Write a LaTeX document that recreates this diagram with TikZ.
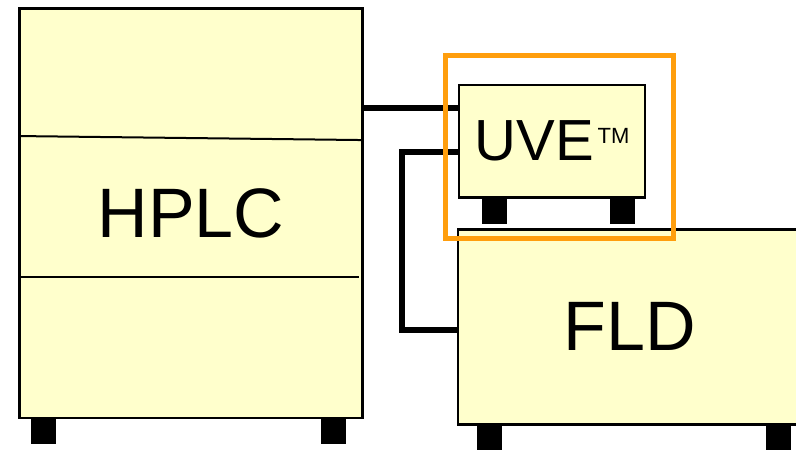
\documentclass[tikz,border=0pt]{standalone}
\usepackage{fontspec}
\setmainfont{Liberation Sans}
\usepackage{xcolor}
\usetikzlibrary{positioning,calc}
\definecolor{boxyellow}{RGB}{255,255,204}
\definecolor{frameorange}{RGB}{255,158,13}

\begin{document}
\begin{tikzpicture}[x=1pt, y=-1pt,
  unit/.style={draw, fill=boxyellow, line width=2.5pt, inner sep=0pt, outer sep=0pt},
  foot/.style={fill=black, minimum width=25pt, minimum height=26pt, inner sep=0pt, outer sep=0pt},
  pipe/.style={line width=6pt},
  bigtext/.style={font=\fontsize{70}{70}\selectfont}]
\useasboundingbox (0,0) rectangle (796,451);

% HPLC stack
\node[unit, bigtext, minimum width=343pt, minimum height=409.5pt] (hplc) at (191,213.3) {HPLC};
\draw[line width=2pt] ([yshift=-127.5pt]hplc.north west) -- ([yshift=-131.5pt]hplc.north east);
\draw[line width=2pt] ([yshift=-268.5pt]hplc.north west) -- ([yshift=-268.5pt,xshift=-4pt]hplc.north east);
\node[foot, anchor=north west] (hfootl) at ([xshift=11pt]hplc.south west) {};
\node[foot, anchor=north east] (hfootr) at ([xshift=-17pt]hplc.south east) {};

% FLD
\node[unit, bigtext, minimum width=344pt, minimum height=195pt] (fld) at (630,326.8) {FLD};
\node[foot, anchor=north west] (ffootl) at ([xshift=18.5pt]fld.south west) {};
\node[foot, anchor=north west] (ffootr) at ([xshift=307.5pt]fld.south west) {};

% UVE
\node[unit, minimum width=186pt, minimum height=112.5pt,
  font=\fontsize{58}{58}\selectfont] (uve) at (552,141.3)
  {\raisebox{-1.5pt}{UVE\hspace{4pt}{\fontsize{22}{22}\selectfont\raisebox{17pt}{TM}}}};
\node[foot, anchor=north west] (ufootl) at ([xshift=22.5pt]uve.south west) {};
\node[foot, anchor=north east] (ufootr) at ([xshift=-10pt]uve.south east) {};

% tubing
\coordinate (uvein) at ([yshift=-23pt]uve.north west);
\coordinate (uveout) at ([yshift=-66.5pt]uve.north west);
\coordinate (fldin) at ([yshift=-3pt]fld.west);
\draw[pipe] (hplc.east |- uvein) -- (uvein);
\draw[pipe] (uveout) -- ++(-57,0) |- (fldin);

% highlight
\node[draw=frameorange, line width=5pt, minimum width=228pt, minimum height=183pt, inner sep=0pt] (frame) at (559.6,146.9) {};
\end{tikzpicture}
\end{document}
